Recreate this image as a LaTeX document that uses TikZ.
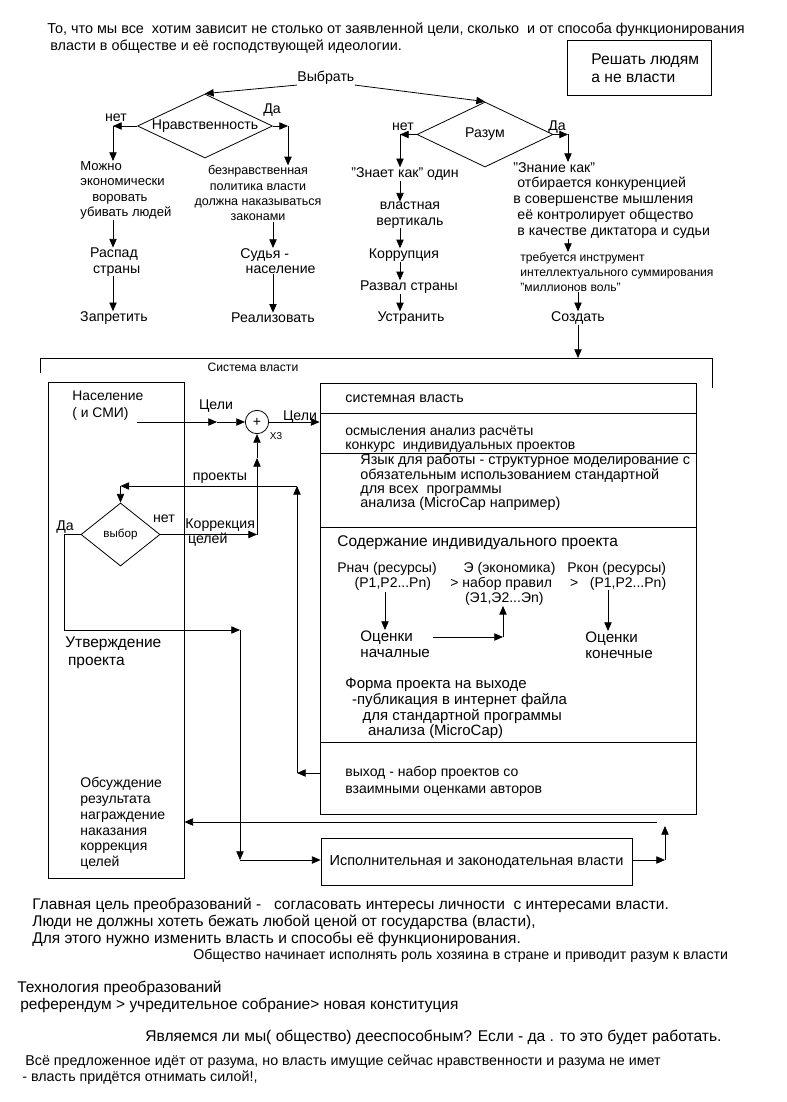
\documentclass[tikz,border=0pt]{standalone}
\usepackage{fontspec}
\setmainfont{Liberation Sans}
\usetikzlibrary{arrows.meta,shapes.geometric}

\begin{document}
\begin{tikzpicture}[x=0.75pt, y=-0.75pt, line width=0.6pt,
        every node/.style={inner sep=0pt, font=\fontsize{10.6}{11.6}\selectfont},
        small/.style={font=\fontsize{9.1}{11.3}\selectfont},
        big/.style={font=\fontsize{11.6}{12}\selectfont},
        arr/.style={-{Triangle[length=6.5pt,width=5.5pt]}},
        dmd/.style={diamond, draw, inner sep=0pt},
        box/.style={draw, inner sep=0pt}]

        \useasboundingbox (0,0) rectangle (787,1102);

        % Заголовок
        \node[anchor=west, font=\fontsize{10.8}{12}\selectfont] (t1) at (47,30) {То, что мы все~ хотим зависит не столько от заявленной цели, сколько~ и от способа функционирования};
        \node[anchor=west, font=\fontsize{10.8}{12}\selectfont] (t2) at (50,47) {власти в обществе и её господствующей идеологии.};
        \node[box, minimum width=108pt, minimum height=41.25pt] (reshat) at (639.5,67.5) {};
        \node[anchor=north west, align=left, font=\fontsize{11.7}{13.5}\selectfont] (reshatT) at (591,53) {Решать людям\\а не власти};

        % Выбор
        \node[anchor=west] (vyb) at (297,78) {Выбрать};
        \node[dmd, minimum width=101.25pt, minimum height=48pt] (nrav) at (205,126) {};
        \node at (nrav.center) {Нравственность};
        \node[dmd, minimum width=102pt, minimum height=48.75pt] (razum) at (485,134.5) {};
        \node at (razum.center) {Разум};
        \draw[arr] (vyb.south west) -- (nrav.north);
        \draw[arr] (vyb.south east) -- (razum.north);

        % Нравственность - ветки
        \coordinate (nL) at (113,126);
        \coordinate (nR) at (288,126);
        \coordinate (mA) at (273,222);
        \node (netA) at (116,118) {нет};
        \node (daA) at (272,110) {Да};
        \node[anchor=north west, align=left, font=\fontsize{9.8}{11.5}\selectfont] (mozhno) at (80,161) {Можно\\экономически\\\hspace*{9pt}воровать\\убивать людей};
        \node[align=center] (raspad) at (114,262) {Распад\\\hspace*{4pt}страны};
        \node (zapr) at (114,318) {Запретить};
        \node[align=center, font=\fontsize{9.4}{11.3}\selectfont] (bez) at (258,193) {безнравственная\\политика власти\\должна наказываться\\законами};
        \node[anchor=north west, align=left] (sud) at (240,248) {Судья -\\\hspace*{4pt}население};
        \node (real) at (273,318) {Реализовать};
        \draw[arr] (nrav.west) -- (nL);
        \draw[arr] (nL) -- (nL |- mozhno.north);
        \draw[arr] (nL |- mozhno.south) -- (nL |- raspad.north);
        \draw[arr] (nL |- raspad.south) -- (nL |- zapr.north);
        \draw[arr] (nrav.east) -- (nR);
        \draw[arr] (nR) -- (nR |- bez.north);
        \draw[arr] (mA) -- (mA |- sud.north);
        \draw[arr] (mA |- sud.south) -- (mA |- real.north);

        % Разум - ветки
        \coordinate (rL) at (400,134.5);
        \coordinate (rR) at (568,134.5);
        \node (netB) at (403,127) {нет};
        \node (daB) at (557,127) {Да};
        \node (znaet) at (405,174) {"Знает как" один};
        \node[align=center] (vlast) at (410,215) {властная\\вертикаль};
        \node (korr) at (404,255) {Коррупция};
        \node (razv) at (409,287) {Развал страны};
        \node (ustr) at (411,318) {Устранить};
        \draw[arr] (razum.west) -- (rL);
        \draw[arr] (rL) -- (rL |- znaet.north);
        \draw[arr] (rL |- znaet.south) -- (rL |- vlast.north);
        \draw[arr] (rL |- vlast.south) -- (rL |- korr.north);
        \draw[arr] (rL |- korr.south) -- (rL |- razv.north);
        \draw[arr] (rL |- razv.south) -- (rL |- ustr.north);
        \node[anchor=north west, align=left, font=\fontsize{10.6}{11.8}\selectfont] (znanie) at (513,162) {"Знание как"\\\hspace*{3pt}отбирается конкуренцией\\в совершенстве мышления\\\hspace*{3pt}её контролирует общество\\\hspace*{3pt}в качестве диктатора и судьи};
        \node[anchor=north west, align=left, small] (treb) at (520,252) {требуется инструмент\\интеллектуального суммирования\\"миллионов воль"};
        \node (sozd) at (578,318) {Создать};
        \draw[arr] (razum.east) -- (rR);
        \draw[arr] (rR) -- (rR |- znanie.north);
        \draw[arr] (rR |- znanie.south) -- (rR |- treb.north);
        \draw[arr] (sozd.north |- treb.south) -- (sozd.north);

        % Система власти
        \coordinate (frTL) at (40,358);
        \coordinate (frTR) at (712,358);
        \draw (40,373) -- (frTL) -- (frTR) -- (712,388);
        \node[small] (sist) at (253,367) {Система власти};
        \draw[arr] (sozd.south) -- (sozd.south |- frTL);

        % Население
        \node[box, minimum width=102pt, minimum height=372pt] (nasbox) at (116,630) {};
        \node[anchor=north west, align=left, font=\fontsize{10.4}{12.5}\selectfont] (nasel) at (72,391) {Население\\( и СМИ)};
        \node[anchor=north west, align=left, font=\fontsize{11.6}{14}\selectfont] (utv) at (65,636) {Утверждение\\\hspace*{2pt}проекта};
        \node[anchor=north west, align=left, font=\fontsize{10.5}{11.85}\selectfont] (obs) at (80,777) {Обсуждение\\результата\\награждение\\наказания\\коррекция\\целей};

        % Сумматор
        \coordinate (nasOut) at (137,422);
        \coordinate (c1) at (217,422);
        \node[circle, draw, minimum size=17.5pt] (sum) at (257,422) {+};
        \node[font=\fontsize{7.5}{8}\selectfont] (x3) at (276,436) {X3};
        \node[anchor=south] (celi1) at (216,413) {Цели};
        \node[anchor=south] (celi2) at (300,424) {Цели};
        \draw[arr] (nasOut) -- (c1);
        \draw[arr] (c1) -- (sum.west);

        % Системная власть
        \node[box, minimum width=282pt, minimum height=323.25pt] (sysbox) at (508,598.5) {};
        \draw (320,413) -- (696,413);
        \draw (320,453) -- (696,453);
        \draw (320,527) -- (696,527);
        \draw (320,742) -- (696,742);
        \draw[arr] (sum.east) -- (sum.east -| sysbox.west);
        \node[anchor=west, font=\fontsize{10.7}{12}\selectfont] (sv) at (345,399) {системная власть};
        \node[anchor=north west, align=left, font=\fontsize{10.5}{10.5}\selectfont] (osm) at (345,426) {осмысления анализ расчёты\\конкурс~ индивидуальных проектов};
        \node[anchor=north west, align=left, font=\fontsize{10.8}{10.6}\selectfont] (yaz) at (360,454) {Язык для работы - структурное моделирование с\\обязательным использованием стандартной\\для всех~ программы\\анализа (MicroCap например)};
        \node[anchor=west, big] (sod) at (337,543) {Содержание индивидуального проекта};
        \node[anchor=north west, align=left, font=\fontsize{10.5}{11.3}\selectfont] (rnach) at (337,562) {Рнач (ресурсы)\\\hspace*{13pt}(P1,P2...Pn)};
        \node[anchor=north west, align=left, font=\fontsize{10.5}{11.3}\selectfont] (eko) at (450,562) {\hspace*{10pt}Э (экономика)\\> набор правил\\\hspace*{11pt}(Э1,Э2...Эn)};
        \node[anchor=north west, align=left, font=\fontsize{10.5}{11.3}\selectfont] (rkon) at (567,562) {Ркон (ресурсы)\\\hspace*{2pt}>~~ (P1,P2...Pn)};
        \node[anchor=north west, align=left, font=\fontsize{11.4}{12}\selectfont] (ocn1) at (360,630) {Оценки\\началные};
        \node[anchor=north west, align=left, font=\fontsize{11.4}{12}\selectfont] (ocn2) at (585,631) {Оценки\\конечные};
        \coordinate (a1) at (385,592);
        \coordinate (a3) at (433,637);
        \coordinate (a4) at (503,637);
        \coordinate (a5) at (608,590);
        \draw[arr] (a1) -- (a1 |- ocn1.north);
        \draw[arr] (a3) -- (a4);
        \draw[arr] (a4) -- (a4 |- eko.south);
        \draw[arr] (a5) -- (a5 |- ocn2.north);
        \node[anchor=north west, align=left, font=\fontsize{11.2}{11.8}\selectfont] (forma) at (345,678) {Форма проекта на выходе\\\hspace*{5pt}-публикация в интернет файла\\\hspace*{13pt}для стандартной программы\\\hspace*{17pt}анализа (MicroCap)};
        \node[anchor=north west, align=left, font=\fontsize{10.5}{12.5}\selectfont] (vyh) at (345,766) {выход - набор проектов со\\взаимными оценками авторов};

        % Проекты и выбор
        \node[dmd, minimum width=59.25pt, minimum height=47.25pt] (vybor) at (120.5,534.5) {};
        \node[font=\fontsize{8.7}{10}\selectfont] at (vybor.center) {выбор};
        \node (netC) at (164,519) {нет};
        \node (daC) at (65,527) {Да};
        \node[anchor=south] (proekty) at (220,484) {проекты};
        \node[anchor=north west, align=left] (korrc) at (185,518) {Коррекция\\\hspace*{2pt}целей};
        \coordinate (pr1) at (297,773);
        \coordinate (pr2) at (297,486);
        \coordinate (pr3) at (120.5,486);
        \draw[arr] (sysbox.west |- pr1) -- (pr1);
        \draw[arr] (pr1) -- (pr2);
        \draw[arr] (pr2) -- (pr3);
        \draw[arr] (pr3) -- (vybor.north);
        \coordinate (k1) at (257,534.5);
        \coordinate (k2) at (257,458);
        \draw[arr] (vybor.east) -- (k1);
        \draw[arr] (k1) -- (k2);
        \draw[arr] (k2) -- (sum.south);

        % Утверждение и исполнение
        \node[box, minimum width=233.25pt, minimum height=35.25pt, font=\fontsize{10.9}{12}\selectfont] (exec) at (476.5,861.5) {Исполнительная и законодательная власти};
        \coordinate (d1) at (64,534.5);
        \coordinate (d2) at (64,630);
        \coordinate (d3) at (240,630);
        \coordinate (d4) at (240,860);
        \draw[arr] (vybor.west) -- (d1) -- (d2) -- (d3);
        \draw[arr] (d3) -- (d4);
        \draw[arr] (d4) -- (exec.west |- d4);
        \coordinate (fb1) at (657,822);
        \coordinate (e1) at (665,860);
        \coordinate (e2) at (665,826);
        \draw[arr] (fb1) -- (nasbox.east |- fb1);
        \draw[arr] (exec.east |- e1) -- (e1);
        \draw[arr] (e1) -- (e2);

        % Текст внизу
        \node[anchor=west, big] (b1) at (32,905) {Главная цель преобразований -~~ согласовать интересы личности~ с интересами власти.};
        \node[anchor=west, big] (b2) at (32,922) {Люди не должны хотеть бежать любой ценой от государства (власти),};
        \node[anchor=west, big] (b3) at (32,939) {Для этого нужно изменить власть и способы её функционирования.};
        \node[anchor=west, font=\fontsize{10.65}{12}\selectfont] (b4) at (193,956) {Общество начинает исполнять роль хозяина в стране и приводит разум к власти};
        \node[anchor=west, big] (b5) at (17,988) {Технология преобразований};
        \node[anchor=west, big] (b6) at (20,1005) {референдум > учредительное собрание> новая конституция};
        \node[anchor=west, font=\fontsize{11.7}{12}\selectfont] (b7) at (145,1037) {Являемся ли мы( общество) дееспособным? Если - да . то это будет работать.};
        \node[anchor=west, font=\fontsize{10.7}{12}\selectfont] (b8) at (25,1062) {Всё предложенное идёт от разума, но власть имущие сейчас нравственности и разума не имет};
        \node[anchor=west, font=\fontsize{10.7}{12}\selectfont] (b9) at (22,1078) {- власть придётся отнимать силой!,};
\end{tikzpicture}
\end{document}
